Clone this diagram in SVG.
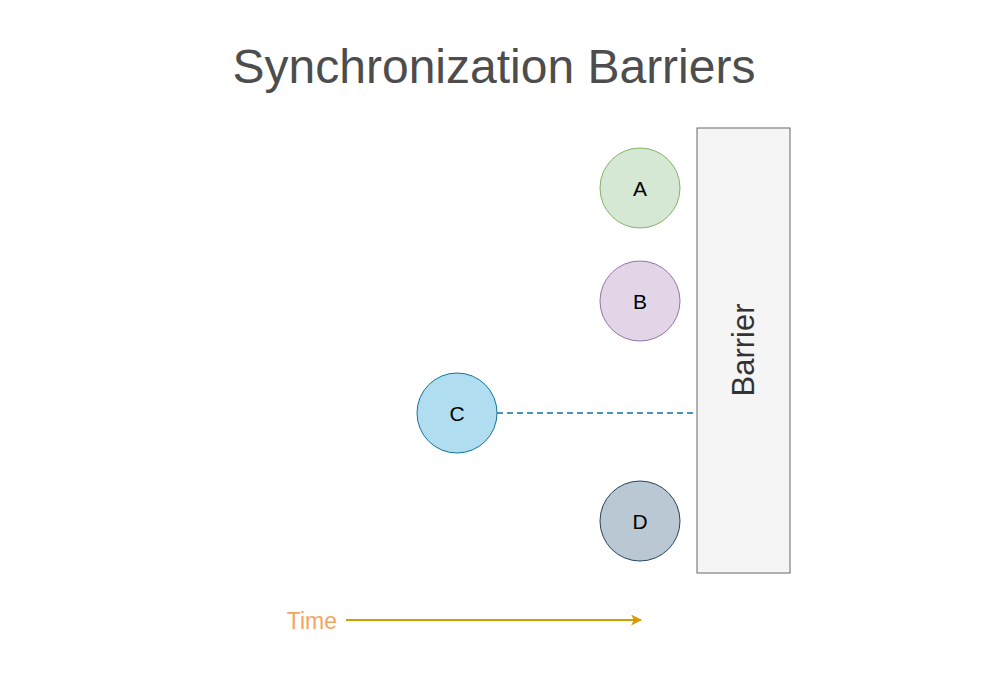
<svg xmlns="http://www.w3.org/2000/svg" width="1000" height="700" viewBox="0 0 1000 700">
<style>
text{font-family:"Liberation Sans",Arial,sans-serif}
.lbl{font-size:21px;fill:#000;text-anchor:middle;dominant-baseline:central}
</style>
<defs>
<marker id="arr" viewBox="0 0 10 10" refX="9" refY="5" markerWidth="11" markerHeight="11" markerUnits="userSpaceOnUse" orient="auto">
<path d="M0,0 L10,5 L0,10 L2.5,5 Z" fill="#d79b00"/>
</marker>
</defs>
<rect width="1000" height="700" fill="#fff"/>
<text x="494" y="83" font-size="48" fill="#4d4d4d" text-anchor="middle">Synchronization Barriers</text>
<g id="connectors">
<line x1="497" y1="413" x2="697" y2="413" stroke="#10739e" stroke-width="1.5" stroke-dasharray="6 4"/>
<line x1="346" y1="620" x2="641" y2="620" stroke="#d79b00" stroke-width="2" marker-end="url(#arr)"/>
</g>
<g id="barrier">
<rect x="697" y="128" width="93" height="445" fill="#f5f5f5" stroke="#666" stroke-width="1"/>
<text transform="translate(743,350) rotate(-90)" font-size="31" fill="#333" text-anchor="middle" dominant-baseline="central">Barrier</text>
</g>
<g id="A"><circle cx="640" cy="188" r="40" fill="#d5e8d4" stroke="#82b366"/><text class="lbl" x="640" y="188">A</text></g>
<g id="B"><circle cx="640" cy="301" r="40" fill="#e1d5e7" stroke="#9673a6"/><text class="lbl" x="640" y="301">B</text></g>
<g id="C"><circle cx="457" cy="413" r="40" fill="#b1ddf0" stroke="#10739e"/><text class="lbl" x="457" y="413">C</text></g>
<g id="D"><circle cx="640" cy="521" r="40" fill="#bac8d3" stroke="#23445d"/><text class="lbl" x="640" y="521">D</text></g>
<g id="time"><text x="337" y="621" font-size="23" fill="#f5a45f" text-anchor="end" dominant-baseline="central">Time</text></g>
</svg>
